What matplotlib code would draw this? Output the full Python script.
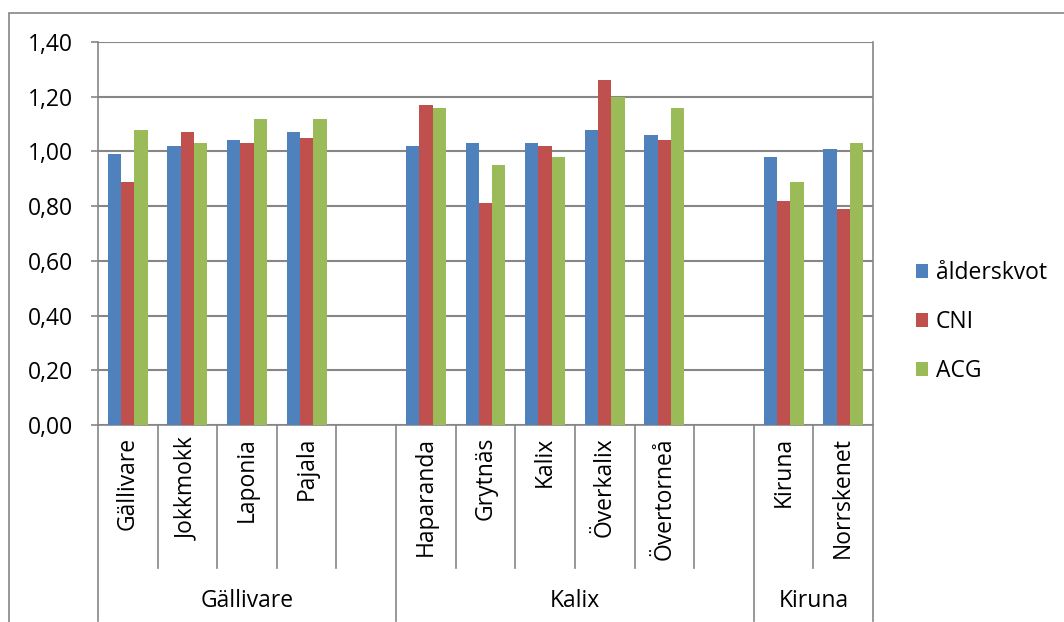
import matplotlib
matplotlib.use("Agg")
import matplotlib.pyplot as plt
from matplotlib.lines import Line2D
from matplotlib.patches import Rectangle
import numpy as np

plt.rcParams['font.family'] = ['Open Sans', 'DejaVu Sans']

categories = ["Gällivare", "Jokkmokk", "Laponia", "Pajala", "",
              "Haparanda", "Grytnäs", "Kalix", "Överkalix", "Övertorneå", "",
              "Kiruna", "Norrskenet"]
groups = ["Gällivare", "Kalix", "Kiruna"]
group_sizes = [5, 6, 2]
series_names = ["ålderskvot", "CNI", "ACG"]
alderskvot = [0.99, 1.02, 1.04, 1.07, None, 1.02, 1.03, 1.03, 1.08, 1.06, None, 0.98, 1.01]
cni        = [0.89, 1.07, 1.03, 1.05, None, 1.17, 0.81, 1.02, 1.26, 1.04, None, 0.82, 0.79]
acg        = [1.08, 1.03, 1.12, 1.12, None, 1.16, 0.95, 0.98, 1.20, 1.16, None, 0.89, 1.03]
colors = ["#4F81BD", "#C0504D", "#9BBB59"]
yticks = [0.0, 0.2, 0.4, 0.6, 0.8, 1.0, 1.2, 1.4]

FS = 16.5
W, H = 1064, 622
fig = plt.figure(figsize=(W / 100, H / 100), dpi=100)
L, R, T, B = 98, 873, 42, 425
ax = fig.add_axes([L / W, 1 - B / H, (R - L) / W, (B - T) / H])

grid_c = "#868686"
n = len(categories)
x = np.arange(n)
bw = 0.223
for i, (vals, name, c) in enumerate(zip([alderskvot, cni, acg], series_names, colors)):
    xs = [xi + (i - 1) * bw for xi, v in zip(x, vals) if v is not None]
    vs = [v for v in vals if v is not None]
    ax.bar(xs, vs, width=bw, color=c, label=name, zorder=3, linewidth=0)

ax.set_xlim(-0.5, n - 0.5)
ax.set_ylim(0, 1.4)
ax.set_yticks(yticks)
ax.set_yticklabels([f"{t:.2f}".replace(".", ",") for t in yticks], fontsize=FS)
ax.yaxis.grid(True, color=grid_c, linewidth=1.5, zorder=0)
ax.set_axisbelow(True)
ax.spines["top"].set_visible(False)
for s in ["left", "right", "bottom"]:
    ax.spines[s].set_color(grid_c)
    ax.spines[s].set_linewidth(1.2)
ax.tick_params(axis="y", length=5, color=grid_c, width=1.2, pad=13)
ax.set_xticks([])

ax_h = B - T
def ay(px_y):
    return (B - px_y) / ax_h

sep_short = ay(568)
sep_long = ay(621)
boundaries = np.cumsum([0] + group_sizes)
for k in range(n + 1):
    xx = k - 0.5
    bottom = sep_long if k in boundaries else sep_short
    ax.add_line(Line2D([xx, xx], [0, bottom], transform=ax.get_xaxis_transform(),
                       color=grid_c, linewidth=1.2, clip_on=False))
for k, lab in enumerate(categories):
    if lab:
        ax.text(k, ay(437), lab, transform=ax.get_xaxis_transform(), rotation=90,
                ha="center", va="top", fontsize=FS, clip_on=False)
for g, s0, sz in zip(groups, boundaries[:-1], group_sizes):
    ax.text(s0 - 0.5 + sz / 2, ay(601), g, transform=ax.get_xaxis_transform(),
            ha="center", va="center", fontsize=FS, clip_on=False)

fs_px = FS * 100 / 72
leg = fig.legend(loc="center left", bbox_to_anchor=(916 / W, 1 - 322 / H), frameon=False,
                 fontsize=FS, handlelength=12 / fs_px, handleheight=12 / fs_px,
                 labelspacing=(48 - fs_px) / fs_px, handletextpad=8 / fs_px,
                 borderpad=0, borderaxespad=0)

fig.add_artist(Rectangle((9 / W, -0.1), 1.2, (H - 12.5) / H + 0.1, transform=fig.transFigure,
                         fill=False, edgecolor=grid_c, linewidth=1.2))

fig.savefig("out.png", dpi=100)
